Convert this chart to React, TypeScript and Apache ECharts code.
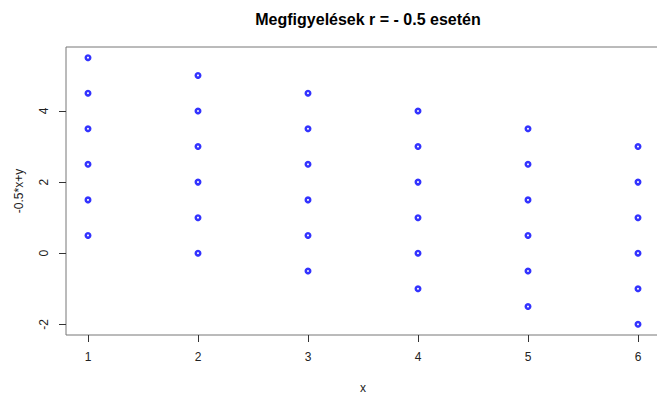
import React, { useEffect, useRef } from "react";
import * as echarts from "echarts";

const xValues = [
  1, 1, 1, 1, 1, 1,
  2, 2, 2, 2, 2, 2,
  3, 3, 3, 3, 3, 3,
  4, 4, 4, 4, 4, 4,
  5, 5, 5, 5, 5, 5,
  6, 6, 6, 6, 6, 6,
];
const yValues = [
  0.5, 1.5, 2.5, 3.5, 4.5, 5.5,
  0, 1, 2, 3, 4, 5,
  -0.5, 0.5, 1.5, 2.5, 3.5, 4.5,
  -1, 0, 1, 2, 3, 4,
  -1.5, -0.5, 0.5, 1.5, 2.5, 3.5,
  -2, -1, 0, 1, 2, 3,
];
const xTicks = [1, 2, 3, 4, 5, 6];
const yTicks = [-2, 0, 2, 4];
const titleText = "Megfigyelések r = - 0.5 esetén";
const xName = "x";
const yName = "-0.5*x+y";

export default function App() {
  const ref = useRef<HTMLDivElement>(null);
  useEffect(() => {
    if (!ref.current) return;
    const chart = echarts.init(ref.current, undefined, { renderer: "svg" });
    const font = "'Liberation Sans', Arial, sans-serif";
    chart.setOption({
      animation: false,
      backgroundColor: "#ffffff",
      title: {
        text: titleText,
        left: 363,
        top: 6,
        textAlign: "center",
        textStyle: { fontFamily: font, fontSize: 16, fontWeight: "bold", color: "#000" },
      },
      grid: {
        left: 66,
        top: 47,
        right: 0,
        bottom: 60,
        show: true,
        borderColor: "#777",
        borderWidth: 1,
        backgroundColor: "transparent",
      },
      xAxis: {
        type: "value",
        min: 0.8,
        max: 6.2,
        name: xName,
        nameLocation: "middle",
        nameGap: 47,
        nameTextStyle: { fontFamily: font, fontSize: 12, color: "#222" },
        axisLine: { show: false, onZero: false },
        axisTick: { show: true, length: 7, customValues: xTicks, lineStyle: { color: "#333" } },
        axisLabel: { customValues: xTicks, margin: 16, fontFamily: font, fontSize: 12, color: "#222" },
        splitLine: { show: false },
      },
      yAxis: {
        type: "value",
        min: -2.3,
        max: 5.8,
        name: yName,
        nameLocation: "middle",
        nameRotate: 90,
        nameGap: 41,
        nameTextStyle: { fontFamily: font, fontSize: 12, color: "#222" },
        axisLine: { show: false, onZero: false },
        axisTick: { show: true, length: 7, customValues: yTicks, lineStyle: { color: "#333" } },
        axisLabel: { customValues: yTicks, rotate: 90, margin: 16, fontFamily: font, fontSize: 12, color: "#222" },
        splitLine: { show: false },
      },
      series: [
        {
          type: "scatter",
          data: xValues.map((x, i) => [x, yValues[i]]),
          symbol: "circle",
          symbolSize: 4.5,
          itemStyle: { color: "#ffffff", borderColor: "#0000ff", borderWidth: 2.5 },
        },
      ],
    });
    return () => chart.dispose();
  }, []);
  return (
    <div
      ref={ref}
      style={{ position: "fixed", left: 0, top: 0, width: 660, height: 399 }}
    />
  );
}
